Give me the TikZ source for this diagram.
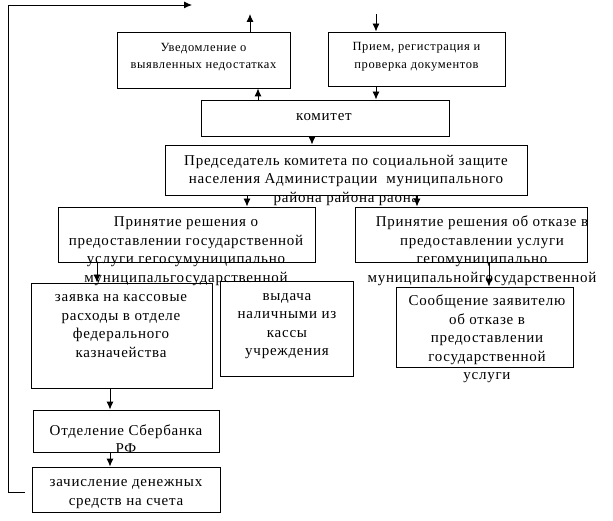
\documentclass[tikz,border=0pt]{standalone}
\usepackage{fontspec}
\setmainfont{Liberation Serif}[LetterSpace=5]
\usetikzlibrary{arrows.meta}
\begin{document}
\begin{tikzpicture}[x=1pt,y=-1pt,
  box/.style={draw,line width=0.9pt,inner sep=0pt,minimum width=#1},
  txt/.style={align=center,inner sep=0pt,font=\fontsize{15}{18.5}\selectfont},
  stxt/.style={align=center,inner sep=0pt,font=\fontsize{12.5}{17.5}\selectfont},
  arr/.style={line width=0.9pt,-{Latex[length=8pt,width=7pt]}},
  ln/.style={line width=0.9pt}]
\fill[white] (0,0) rectangle (613,521);
\useasboundingbox (0,0) rectangle (613,521);
% boxes
\node[box=173pt,minimum height=56pt] (b1) at (203.5,60) {};
\node[box=177pt,minimum height=54pt] (b2) at (416.5,59) {};
\node[box=248pt,minimum height=36pt] (kom) at (325,118) {};
\node[box=362pt,minimum height=50pt] (chair) at (346,170) {};
\node[box=257pt,minimum height=55pt] (dec1) at (186.5,234.5) {};
\node[box=232pt,minimum height=55pt] (dec2) at (471,234.5) {};
\node[box=181pt,minimum height=105pt] (zay) at (121.5,335.5) {};
\node[box=133pt,minimum height=95pt] (vyd) at (286.5,328.5) {};
\node[box=177pt,minimum height=80pt] (soob) at (484.5,327) {};
\node[box=186pt,minimum height=42pt] (sber) at (126,431) {};
\node[box=188pt,minimum height=45pt] (zach) at (126,489.5) {};
% texts
\node[stxt] (t1) at (203.5,57) {Уведомление о\\выявленных недостатках};
\node[stxt] (t2) at (416.5,57) {Прием, регистрация и\\проверка документов};
\node[txt] (tk) at (324,117) {комитет};
\node[txt] (tc) at (346,180) {Председатель комитета по социальной защите\\населения Администрации\ \ муниципального\\района района раона};
\node[txt] (td1) at (186,251) {Принятие решения о\\предоставлении государственной\\услуги гегосумуниципально\\муниципальгосударственной};
\node[txt] (td2) at (482,251) {Принятие решения об отказе в\\предоставлении услуги\\гегомуниципально\\муниципальнойгосударственной};
\node[txt] (tz) at (121,326) {заявка на кассовые\\расходы в отделе\\федерального\\казначейства};
\node[txt] (tv) at (287,326) {выдача\\наличными из\\кассы\\учреждения};
\node[txt] (ts) at (487,339) {Сообщение заявителю\\об отказе в\\предоставлении\\государственной\\услуги};
\node[txt] (tsb) at (126,439) {Отделение Сбербанка\\РФ};
\node[txt] (tzc) at (126,494) {зачисление денежных\\средств на счета};
% x positions
\coordinate (x250) at (250,0);
\coordinate (x258) at (258,0);
\coordinate (x376) at (376,0);
\coordinate (x312) at (312,0);
\coordinate (x247) at (247,0);
\coordinate (x417) at (417,0);
\coordinate (x97) at (97,0);
\coordinate (x489) at (489,0);
\coordinate (x110) at (110,0);
\coordinate (upend) at (250,14);
\coordinate (instart) at (376,14);
\coordinate (loopA) at (25,492);
\coordinate (loopC) at (8,5);
\coordinate (loopEnd) at (192,5);
% connectors
\draw[arr] (b1.north -| x250) -- (upend);
\draw[arr] (instart) -- (b2.north -| x376);
\draw[arr] (kom.north -| x258) -- (b1.south -| x258);
\draw[arr] (b2.south -| x376) -- (kom.north -| x376);
\draw[arr] (kom.south -| x312) -- (chair.north -| x312);
\draw[arr] (chair.south -| x247) -- (dec1.north -| x247);
\draw[arr] (chair.south -| x417) -- (dec2.north -| x417);
\draw[arr] (dec1.south -| x97) -- (zay.north -| x97);
\draw[arr] (dec2.south -| x489) -- (soob.north -| x489);
\draw[arr] (zay.south -| x110) -- (sber.north -| x110);
\draw[arr] (sber.south -| x110) -- (zach.north -| x110);
\draw[arr] (loopA) -| (loopC) -- (loopEnd);
\end{tikzpicture}
\end{document}
